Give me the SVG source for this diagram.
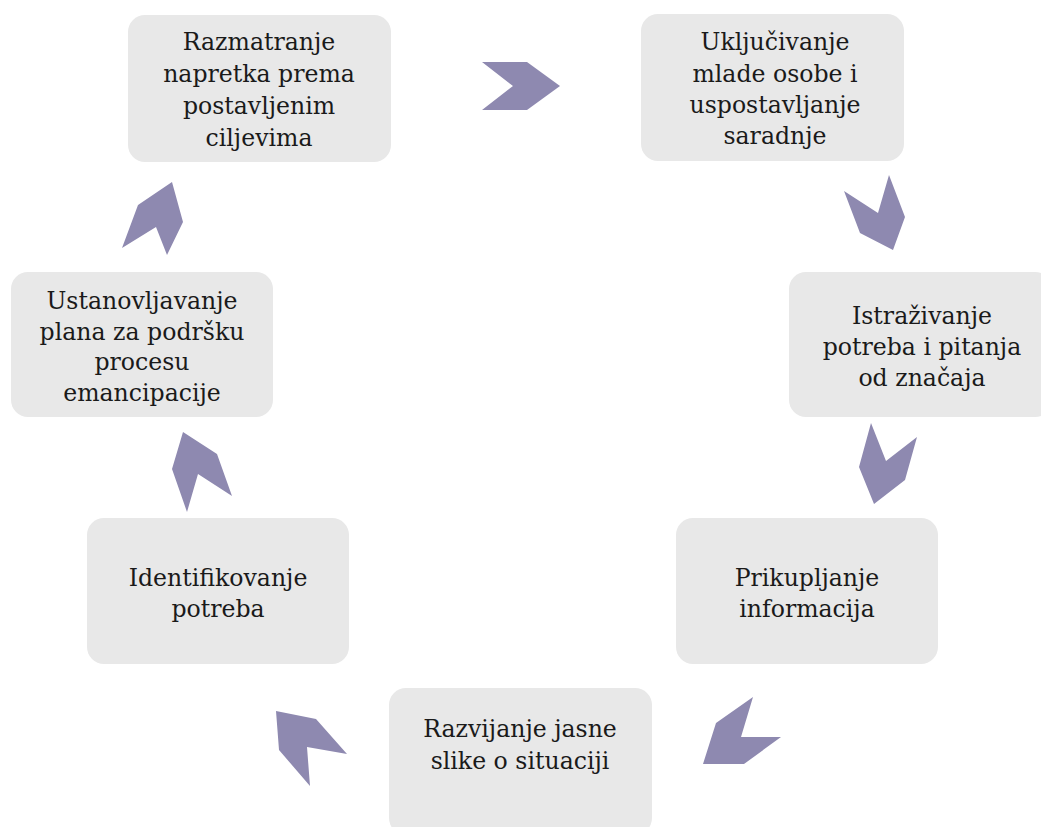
<svg xmlns="http://www.w3.org/2000/svg" width="1041" height="827" viewBox="0 0 1041 827">
  <style>
    .box { fill: #e8e8e8; }
    .lbl { font-family: "DejaVu Serif", "Liberation Serif", serif; font-size: 23.6px; fill: #1a1a1a; text-anchor: middle; }
    .chev { fill: #8e89b0; }
  </style>
  <rect width="1041" height="827" fill="#ffffff"/>

  <g id="connectors">
    <polygon class="chev" points="482,62 527,62 560,86 527,110 482,110 513,86"/>
    <polygon class="chev" points="889,175 905,217 893,250 860,233 844,191 878,213"/>
    <polygon class="chev" points="871,423 886,461 917,437 905,480 874,504 859,467"/>
    <polygon class="chev" points="753,697 716,723 703,764 744,764 781,737 741,737"/>
    <polygon class="chev" points="276,711 316,719 347,754 307,747 310,786 279,750"/>
    <polygon class="chev" points="183,432 217,454 232,496 198,474 187,512 172,469"/>
    <polygon class="chev" points="172,182 183,222 167,255 156,227 122,248 138,205"/>
  </g>

  <g id="node-razmatranje">
    <rect class="box" x="128" y="15" width="263" height="147" rx="17"/>
    <text class="lbl" x="259" y="50">Razmatranje</text>
    <text class="lbl" x="259" y="82">napretka prema</text>
    <text class="lbl" x="259" y="114">postavljenim</text>
    <text class="lbl" x="259" y="146">ciljevima</text>
  </g>

  <g id="node-ukljucivanje">
    <rect class="box" x="641" y="14" width="263" height="147" rx="17"/>
    <text class="lbl" x="775" y="50">Uključivanje</text>
    <text class="lbl" x="775" y="82">mlade osobe i</text>
    <text class="lbl" x="775" y="113">uspostavljanje</text>
    <text class="lbl" x="775" y="144">saradnje</text>
  </g>

  <g id="node-istrazivanje">
    <rect class="box" x="789" y="272" width="263" height="145" rx="17"/>
    <text class="lbl" x="922" y="324">Istraživanje</text>
    <text class="lbl" x="922" y="355">potreba i pitanja</text>
    <text class="lbl" x="922" y="386">od značaja</text>
  </g>

  <g id="node-prikupljanje">
    <rect class="box" x="676" y="518" width="262" height="146" rx="17"/>
    <text class="lbl" x="807" y="586">Prikupljanje</text>
    <text class="lbl" x="807" y="617">informacija</text>
  </g>

  <g id="node-razvijanje">
    <rect class="box" x="389" y="688" width="263" height="147" rx="17"/>
    <text class="lbl" x="520" y="737">Razvijanje jasne</text>
    <text class="lbl" x="520" y="769">slike o situaciji</text>
  </g>

  <g id="node-identifikovanje">
    <rect class="box" x="87" y="518" width="262" height="146" rx="17"/>
    <text class="lbl" x="218" y="586">Identifikovanje</text>
    <text class="lbl" x="218" y="617">potreba</text>
  </g>

  <g id="node-ustanovljavanje">
    <rect class="box" x="11" y="272" width="262" height="145" rx="17"/>
    <text class="lbl" x="142" y="309">Ustanovljavanje</text>
    <text class="lbl" x="142" y="340">plana za podršku</text>
    <text class="lbl" x="142" y="370">procesu</text>
    <text class="lbl" x="142" y="401">emancipacije</text>
  </g>
</svg>
